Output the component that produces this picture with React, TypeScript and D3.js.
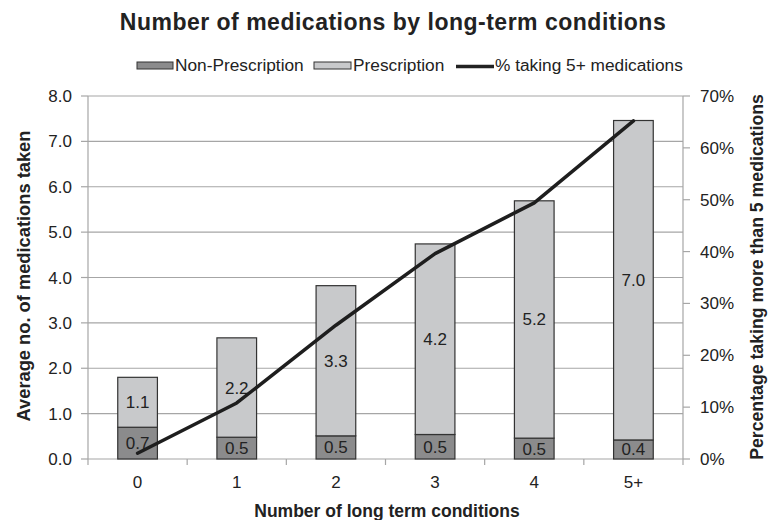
import React from "react";
import * as d3 from "d3";

const categories = ["0", "1", "2", "3", "4", "5+"];
const nonPrescription = [0.7, 0.48, 0.51, 0.54, 0.46, 0.42];
const prescription = [1.1, 2.19, 3.31, 4.2, 5.23, 7.04];
const pctFivePlus = [1.1, 10.8, 25.8, 39.6, 49.4, 65.2];
const leftTicks = [0, 1, 2, 3, 4, 5, 6, 7, 8];
const rightTicks = [0, 10, 20, 30, 40, 50, 60, 70];

const W = 768;
const H = 520;
const M = { left: 88, right: 683, top: 96, bottom: 459 };
const FONT = "'Liberation Sans', Arial, Helvetica, sans-serif";
const TXT = "#222";
const DARK = "#8b8b8c";
const LIGHT = "#c8c9cb";
const GRID = "#a6a6a6";
const TICK_FS = 17;

export default function App() {
  const x = d3.scaleBand<string>().domain(categories).range([M.left, M.right]).paddingInner(0.6).paddingOuter(0.3);
  const xb = d3.scaleBand<string>().domain(categories).range([M.left, M.right]);
  const y = d3.scaleLinear().domain([0, 8]).range([M.bottom, M.top]);
  const y2 = d3.scaleLinear().domain([0, 70]).range([M.bottom, M.top]);

  const rows = categories.map((c, i) => ({ c, np: nonPrescription[i], p: prescription[i], pct: pctFivePlus[i] }));
  const line = d3
    .line<(typeof rows)[number]>()
    .x((d) => (xb(d.c) as number) + xb.bandwidth() / 2)
    .y((d) => y2(d.pct));

  const bw = x.bandwidth();
  const fmt = d3.format(".1f");

  return (
    <svg width={W} height={H} style={{ position: "absolute", left: 0, top: 0, background: "#fff" }} fontFamily={FONT}>
      <text x={393} y={30} textAnchor="middle" fontSize={23} fontWeight="bold" fill={TXT} letterSpacing={0.5}>
        Number of medications by long-term conditions
      </text>

      {/* legend */}
      <g fontSize={17.3} fill={TXT}>
        <rect x={137} y={62} width={36} height={7} fill={DARK} stroke="#333" strokeWidth={1} />
        <text x={175} y={71}>Non-Prescription</text>
        <rect x={314} y={62} width={37} height={7} fill={LIGHT} stroke="#333" strokeWidth={1} />
        <text x={353} y={71}>Prescription</text>
        <line x1={456} x2={494} y1={66.5} y2={66.5} stroke="#222" strokeWidth={3.5} />
        <text x={495} y={71}>% taking 5+ medications</text>
      </g>

      {/* gridlines */}
      {leftTicks.map((t) => (
        <line key={"g" + t} x1={M.left} x2={M.right} y1={y(t)} y2={y(t)} stroke={GRID} strokeWidth={1.2} />
      ))}

      {/* left axis */}
      <line x1={M.left} x2={M.left} y1={M.top} y2={M.bottom} stroke={GRID} strokeWidth={1.2} />
      {leftTicks.map((t) => (
        <g key={"l" + t}>
          <line x1={M.left - 7} x2={M.left} y1={y(t)} y2={y(t)} stroke={GRID} strokeWidth={1.2} />
          <text x={72} y={y(t) + 6} textAnchor="end" fontSize={TICK_FS} fill={TXT}>
            {fmt(t)}
          </text>
        </g>
      ))}

      {/* right axis */}
      <line x1={M.right} x2={M.right} y1={M.top} y2={M.bottom} stroke={GRID} strokeWidth={1.2} />
      {rightTicks.map((t) => (
        <g key={"r" + t}>
          <line x1={M.right} x2={M.right + 7} y1={y2(t)} y2={y2(t)} stroke={GRID} strokeWidth={1.2} />
          <text x={700} y={y2(t) + 6} textAnchor="start" fontSize={TICK_FS} fill={TXT}>
            {t + "%"}
          </text>
        </g>
      ))}

      {/* x axis ticks */}
      {categories.map((c) => (
        <line key={"xt" + c} x1={xb(c) as number} x2={xb(c) as number} y1={M.bottom} y2={M.bottom + 6} stroke={GRID} strokeWidth={1.2} />
      ))}
      <line x1={M.right} x2={M.right} y1={M.bottom} y2={M.bottom + 6} stroke={GRID} strokeWidth={1.2} />
      {categories.map((c) => (
        <text key={"xl" + c} x={(xb(c) as number) + xb.bandwidth() / 2} y={488} textAnchor="middle" fontSize={TICK_FS} fill={TXT}>
          {c}
        </text>
      ))}

      {/* bars */}
      {rows.map((d) => {
        const bx = x(d.c) as number;
        const y0 = y(0);
        const y1 = y(d.np);
        const yt = y(d.np + d.p);
        return (
          <g key={"b" + d.c}>
            <rect x={bx} y={y1} width={bw} height={y0 - y1} fill={DARK} stroke="#333" strokeWidth={1.2} />
            <rect x={bx} y={yt} width={bw} height={y1 - yt} fill={LIGHT} stroke="#333" strokeWidth={1.2} />
            <text x={bx + bw / 2} y={(y0 + y1) / 2 + 6} textAnchor="middle" fontSize={TICK_FS} fill={TXT}>
              {fmt(d.np)}
            </text>
            <text x={bx + bw / 2} y={(y1 + yt) / 2 + 6} textAnchor="middle" fontSize={TICK_FS} fill={TXT}>
              {fmt(d.p)}
            </text>
          </g>
        );
      })}

      {/* line */}
      <path d={line(rows) as string} fill="none" stroke="#1e1e1e" strokeWidth={3.5} strokeLinejoin="round" strokeLinecap="round" />

      {/* axis titles */}
      <text x={387} y={517} textAnchor="middle" fontSize={17.5} fontWeight="bold" fill={TXT}>
        Number of long term conditions
      </text>
      <text transform={`translate(30,276) rotate(-90)`} textAnchor="middle" fontSize={18.3} fontWeight="bold" fill={TXT}>
        Average no. of medications taken
      </text>
      <text transform={`translate(763,277) rotate(-90)`} textAnchor="middle" fontSize={17.7} fontWeight="bold" fill={TXT}>
        Percentage taking more than 5 medications
      </text>
    </svg>
  );
}
